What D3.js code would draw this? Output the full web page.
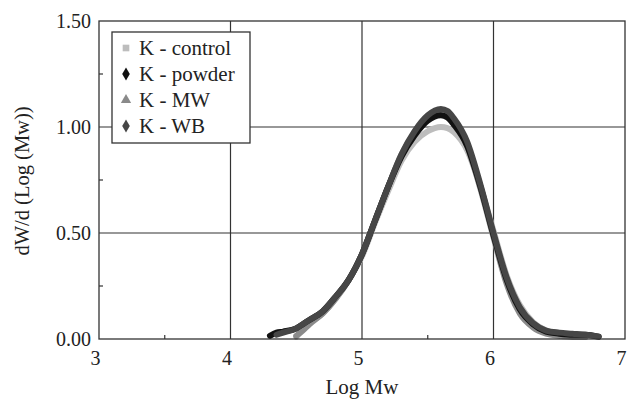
<!DOCTYPE html>
<html>
<head>
<meta charset="utf-8">
<script src="https://cdn.jsdelivr.net/npm/d3@7"></script>
<style>
  html, body { margin: 0; padding: 0; background: #fff; }
  svg text { font-family: "Liberation Serif", "Times New Roman", serif; fill: #222; }
</style>
</head>
<body>
<div id="chart"></div>
<script>
// data
const logMw = [4.30, 4.35, 4.40, 4.50, 4.55, 4.60, 4.70, 4.80, 4.90, 5.00, 5.10, 5.20, 5.30, 5.40, 5.50,
  5.60, 5.65, 5.70, 5.80, 5.90, 6.00, 6.10, 6.20, 6.30, 6.40, 6.50, 6.60, 6.70, 6.80];
const kControl = [null, null, null, 0.01, 0.045, 0.075, 0.12, 0.19, 0.28, 0.39, 0.55, 0.70, 0.84, 0.93, 0.98,
  1.0, 0.995, 0.975, 0.89, 0.72, 0.51, 0.30, 0.16, 0.08, 0.04, 0.025, 0.015, 0.01, null];
const kPowder = [0.015, 0.03, 0.035, 0.05, 0.07, 0.09, 0.13, 0.20, 0.28, 0.40, 0.56, 0.72, 0.86, 0.96, 1.03,
  1.055, 1.045, 1.01, 0.91, 0.72, 0.49, 0.28, 0.14, 0.07, 0.035, 0.025, 0.02, 0.02, 0.01];
const kMW = [null, null, null, 0.015, 0.04, 0.07, 0.12, 0.19, 0.28, 0.40, 0.56, 0.72, 0.87, 0.97, 1.04,
  1.07, 1.055, 1.02, 0.91, 0.71, 0.48, 0.26, 0.12, 0.055, 0.025, 0.015, 0.01, 0.01, null];
const kWB = [null, 0.02, 0.03, 0.05, 0.07, 0.09, 0.13, 0.20, 0.28, 0.40, 0.56, 0.72, 0.87, 0.98, 1.055,
  1.085, 1.075, 1.04, 0.93, 0.73, 0.50, 0.29, 0.15, 0.075, 0.04, 0.03, 0.025, 0.02, 0.012];

const seriesNames = ['K - control', 'K - powder', 'K - MW', 'K - WB'];
const xTicks = [3, 4, 5, 6, 7];
const yTicks = [0, 0.5, 1.0, 1.5];
const xMinor = [3.5, 4.5, 5.5, 6.5];
const yMinor = [0.25, 0.75, 1.25];

const series = [
  { name: seriesNames[0], values: kControl, color: '#bdbdbd', symbol: d3.symbolSquare, size: 44 },
  { name: seriesNames[1], values: kPowder, color: '#111111', symbol: d3.symbolDiamond, size: 50 },
  { name: seriesNames[2], values: kMW, color: '#8a8a8a', symbol: d3.symbolTriangle, size: 46 },
  { name: seriesNames[3], values: kWB, color: '#464646', symbol: d3.symbolDiamond, size: 50 },
];
// draw order so WB sits on top like the original
const drawOrder = [0, 2, 1, 3];

const width = 628, height = 399;
const margin = { top: 21, right: 3, bottom: 60, left: 99 };
const plotW = width - margin.left - margin.right;
const plotH = height - margin.top - margin.bottom;

const svg = d3.select('#chart').append('svg')
  .attr('width', width)
  .attr('height', height);

const g = svg.append('g').attr('transform', `translate(${margin.left},${margin.top})`);

const x = d3.scaleLinear().domain([3, 7]).range([0, plotW]);
const y = d3.scaleLinear().domain([0, 1.5]).range([plotH, 0]);

// grid
g.append('g')
  .selectAll('line.vgrid')
  .data([4, 5, 6])
  .enter().append('line')
  .attr('x1', d => x(d)).attr('x2', d => x(d))
  .attr('y1', 0).attr('y2', plotH)
  .attr('stroke', '#333').attr('stroke-width', 1.2);

g.append('g')
  .selectAll('line.hgrid')
  .data([0.5, 1.0])
  .enter().append('line')
  .attr('x1', 0).attr('x2', plotW)
  .attr('y1', d => y(d)).attr('y2', d => y(d))
  .attr('stroke', '#333').attr('stroke-width', 1.2);

// minor ticks, pointing inwards
g.append('g')
  .selectAll('line')
  .data(xMinor)
  .enter().append('line')
  .attr('x1', d => x(d)).attr('x2', d => x(d))
  .attr('y1', plotH).attr('y2', plotH - 4)
  .attr('stroke', '#333').attr('stroke-width', 1.2);

g.append('g')
  .selectAll('line')
  .data(yMinor)
  .enter().append('line')
  .attr('x1', 0).attr('x2', 4)
  .attr('y1', d => y(d)).attr('y2', d => y(d))
  .attr('stroke', '#333').attr('stroke-width', 1.2);

// curves
const line = d3.line()
  .defined(d => d[1] != null)
  .x(d => x(d[0]))
  .y(d => y(d[1]))
  .curve(d3.curveMonotoneX);

drawOrder.forEach(i => {
  const s = series[i];
  g.append('path')
    .datum(logMw.map((v, k) => [v, s.values[k]]))
    .attr('fill', 'none')
    .attr('stroke', s.color)
    .attr('stroke-width', 6)
    .attr('stroke-linejoin', 'round')
    .attr('stroke-linecap', 'round')
    .attr('d', line);
});

// plot frame
g.append('rect')
  .attr('width', plotW).attr('height', plotH)
  .attr('fill', 'none')
  .attr('stroke', '#333').attr('stroke-width', 1.3);

// axes
const xAxis = g.append('g')
  .attr('transform', `translate(0,${plotH})`)
  .call(d3.axisBottom(x).tickValues(xTicks).tickSize(0).tickPadding(12).tickFormat(d3.format('d')));
xAxis.select('.domain').remove();
xAxis.selectAll('text')
  .attr('dx', -4)
  .style('font-size', '20px')
  .style('font-family', '"Liberation Serif", serif');

const yAxis = g.append('g')
  .call(d3.axisLeft(y).tickValues(yTicks).tickSize(0).tickPadding(8).tickFormat(d3.format('.2f')));
yAxis.select('.domain').remove();
yAxis.selectAll('text')
  .style('font-size', '20px')
  .style('font-family', '"Liberation Serif", serif');

// axis titles
svg.append('text')
  .attr('x', margin.left + plotW / 2)
  .attr('y', 394)
  .attr('text-anchor', 'middle')
  .style('font-size', '21px')
  .text('Log Mw');

svg.append('text')
  .attr('transform', `translate(29,${margin.top + plotH / 2 + 1}) rotate(-90)`)
  .attr('text-anchor', 'middle')
  .style('font-size', '20.5px')
  .text('dW/d (Log (Mw))');

// legend
const legend = svg.append('g').attr('transform', 'translate(112,32)');
legend.append('rect')
  .attr('width', 138).attr('height', 111)
  .attr('fill', '#fff')
  .attr('stroke', '#333').attr('stroke-width', 1.3);

series.forEach((s, i) => {
  const row = legend.append('g').attr('transform', `translate(14,${16 + i * 26})`);
  row.append('path')
    .attr('d', d3.symbol().type(s.symbol).size(s.size)())
    .attr('fill', s.color);
  row.append('text')
    .attr('x', 13)
    .attr('y', 7)
    .style('font-size', '21px')
    .text(s.name);
});
</script>
</body>
</html>
